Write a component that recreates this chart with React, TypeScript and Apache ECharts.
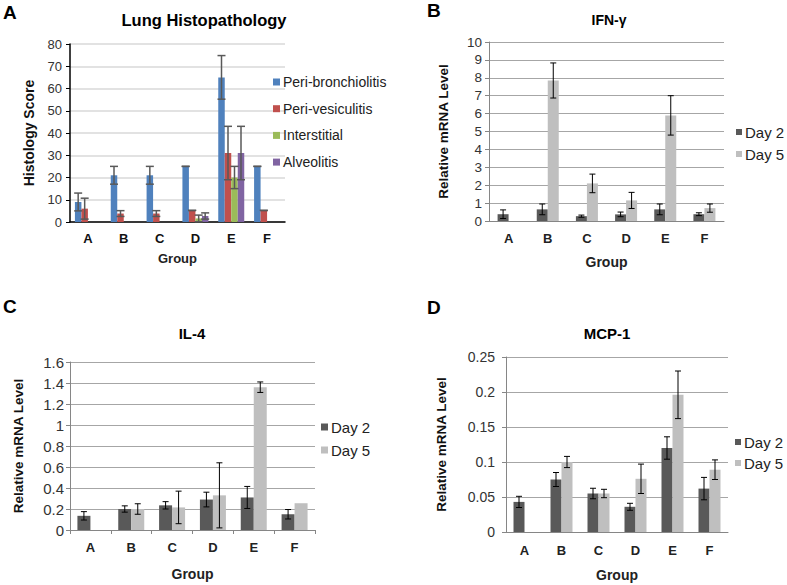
import React, { useEffect, useRef } from "react";
import * as echarts from "echarts";

const groups = ["A", "B", "C", "D", "E", "F"];

// Panel A – Lung histopathology
const histoNames = ["Peri-bronchiolitis", "Peri-vesiculitis", "Interstitial", "Alveolitis"];
const histoColors = ["#4F81BD", "#C0504D", "#9BBB59", "#8064A2"];
const periBronch = [9, 21, 21, 25, 65, 25];
const periBronchErr = [4, 4, 4, 0, 9.8, 0];
const periVes = [6, 3.8, 3.8, 5.2, 31, 5.2];
const periVesErr = [4.7, 1.3, 1.3, 0, 12, 0];
const interstitial = [0, 0, 0, 1.6, 20, 0];
const interstitialErr = [null, null, null, 1.5, 5, null];
const alveolitis = [0, 0, 0, 2.7, 31, 0];
const alveolitisErr = [null, null, null, 1.4, 12, null];

// Panels B–D
const dayNames = ["Day 2", "Day 5"];
const dayColors = ["#595959", "#BFBFBF"];

const ifnDay2 = [0.38, 0.65, 0.27, 0.37, 0.65, 0.38];
const ifnDay2Err = [0.24, 0.3, 0.06, 0.13, 0.3, 0.08];
const ifnDay5 = [0, 7.85, 2.1, 1.15, 5.9, 0.72];
const ifnDay5Err = [null, 0.98, 0.52, 0.45, 1.1, 0.23];

const il4Day2 = [0.135, 0.2, 0.235, 0.29, 0.31, 0.15];
const il4Day2Err = [0.04, 0.03, 0.035, 0.07, 0.105, 0.045];
const il4Day5 = [0, 0.2, 0.215, 0.33, 1.36, 0.255];
const il4Day5Err = [null, 0.05, 0.155, 0.31, 0.05, null];

const mcpDay2 = [0.043, 0.075, 0.055, 0.036, 0.12, 0.062];
const mcpDay2Err = [0.008, 0.01, 0.0075, 0.005, 0.016, 0.016];
const mcpDay5 = [0, 0.1, 0.055, 0.076, 0.196, 0.089];
const mcpDay5Err = [null, 0.008, 0.006, 0.021, 0.034, 0.014];

const FONT = '"Liberation Sans", Arial, sans-serif';

function errSeries(
  axisIdx: number,
  values: number[],
  errs: (number | null)[],
  pos: number,
  count: number,
  barW: number,
  color: string,
  lw: number,
  cap: number
) {
  const data: number[][] = [];
  values.forEach((v, i) => {
    const e = errs[i];
    if (e !== null && e !== undefined) data.push([i, v, e]);
  });
  const offset = (pos - (count - 1) / 2) * barW;
  return {
    type: "custom",
    name: "err" + axisIdx + "_" + pos,
    xAxisIndex: axisIdx,
    yAxisIndex: axisIdx,
    z: 10,
    silent: true,
    data,
    renderItem: (params: any, api: any) => {
      const i = api.value(0);
      const v = api.value(1);
      const e = api.value(2);
      const top = api.coord([i, v + e]);
      const bot = api.coord([i, v - e]);
      const x = top[0] + offset;
      const style = { stroke: color, lineWidth: lw };
      const children: any[] = [
        { type: "line", shape: { x1: x - cap / 2, y1: top[1], x2: x + cap / 2, y2: top[1] }, style },
        { type: "line", shape: { x1: x - cap / 2, y1: bot[1], x2: x + cap / 2, y2: bot[1] }, style },
      ];
      if (e > 0) {
        children.push({ type: "line", shape: { x1: x, y1: top[1], x2: x, y2: bot[1] }, style });
      }
      return { type: "group", children };
    },
  };
}

function barSeries(axisIdx: number, name: string, values: number[], color: string, barW: number) {
  return {
    type: "bar",
    name,
    xAxisIndex: axisIdx,
    yAxisIndex: axisIdx,
    data: values,
    barWidth: barW,
    barGap: "0%",
    itemStyle: { color },
  };
}

const grids = [
  { left: 70, top: 44, width: 215, height: 178 },
  { left: 489, top: 42, width: 235, height: 179 },
  { left: 70, top: 362, width: 245, height: 168 },
  { left: 506, top: 357, width: 222, height: 175 },
];

const yRanges = [
  { max: 80, interval: 10 },
  { max: 10, interval: 1 },
  { max: 1.6, interval: 0.2 },
  { max: 0.25, interval: 0.05 },
];

const yNames = ["Histology Score", "Relative mRNA Level", "Relative mRNA Level", "Relative mRNA Level"];
const yNameGaps = [34, 39, 45, 58];
const yLabelMargins = [8, 7, 6, 11];
const yLabelSizes = [13, 13.5, 15, 14];
const xNameGaps = [30, 34, 37, 36];
const xLabelMargins = [10, 11, 11, 12];

export default function App() {
  const ref = useRef<HTMLDivElement>(null);
  useEffect(() => {
    if (!ref.current) return;
    const chart = echarts.init(ref.current, null, { renderer: "svg" });

    const xAxis = grids.map((_, k) => ({
      type: "category",
      gridIndex: k,
      data: groups,
      name: "Group",
      nameLocation: "middle",
      nameGap: xNameGaps[k],
      nameTextStyle: { fontFamily: FONT, fontWeight: "bold", fontSize: k === 0 ? 13 : 14, color: "#222" },
      axisLine: { lineStyle: { color: k === 0 ? "#000" : "#868686", width: k === 0 ? 1.5 : 1 } },
      axisTick: { show: k === 2, alignWithLabel: false, length: 4, lineStyle: { color: "#868686" } },
      axisLabel: {
        fontFamily: FONT,
        fontWeight: "bold",
        fontSize: 13,
        color: k === 0 ? "#111" : "#222",
        margin: xLabelMargins[k],
      },
    }));

    const yAxis = grids.map((_, k) => ({
      type: "value",
      gridIndex: k,
      min: 0,
      max: yRanges[k].max,
      interval: yRanges[k].interval,
      name: yNames[k],
      nameLocation: "middle",
      nameRotate: 90,
      nameGap: yNameGaps[k],
      nameTextStyle: { fontFamily: FONT, fontWeight: "bold", fontSize: k === 0 ? 14 : 13.5, color: "#111" },
      axisLine: { show: true, lineStyle: { color: k === 0 ? "#000" : "#868686", width: k === 0 ? 1.5 : 1 } },
      axisTick: { show: true, length: 4, lineStyle: { color: k === 0 ? "#000" : "#868686" } },
      axisLabel: { fontFamily: FONT, fontSize: yLabelSizes[k], color: "#333", margin: yLabelMargins[k] },
      splitLine: {
        show: true,
        lineStyle: { color: k === 0 ? "#D9D9D9" : "#A6A6A6", width: k === 0 ? 1.5 : 1 },
      },
    }));

    const histoVals = [periBronch, periVes, interstitial, alveolitis];
    const histoErrs = [periBronchErr, periVesErr, interstitialErr, alveolitisErr];
    const series: any[] = [];
    histoVals.forEach((vals, i) => {
      series.push(barSeries(0, histoNames[i], vals, histoColors[i], 6.5));
    });
    histoVals.forEach((vals, i) => {
      series.push(errSeries(0, vals, histoErrs[i], i, 4, 6.5, "#595959", 1.5, 8));
    });

    const panels = [
      { idx: 1, d2: ifnDay2, e2: ifnDay2Err, d5: ifnDay5, e5: ifnDay5Err, w: 11 },
      { idx: 2, d2: il4Day2, e2: il4Day2Err, d5: il4Day5, e5: il4Day5Err, w: 13 },
      { idx: 3, d2: mcpDay2, e2: mcpDay2Err, d5: mcpDay5, e5: mcpDay5Err, w: 11 },
    ];
    panels.forEach((p) => {
      series.push(barSeries(p.idx, dayNames[0], p.d2, dayColors[0], p.w));
      series.push(barSeries(p.idx, dayNames[1], p.d5, dayColors[1], p.w));
      series.push(errSeries(p.idx, p.d2, p.e2, 0, 2, p.w, "#000", 1, 6));
      series.push(errSeries(p.idx, p.d5, p.e5, 1, 2, p.w, "#000", 1, 6));
    });

    const mkLegend = (data: string[], left: number, top: number, gap: number, size: number, icon: number) => ({
      data,
      orient: "vertical",
      left,
      top,
      padding: 0,
      itemGap: gap,
      itemWidth: icon,
      itemHeight: icon,
      icon: "rect",
      textStyle: { fontFamily: FONT, fontSize: size, color: "#222", padding: [0, 0, 0, -2] },
      selectedMode: false,
    });
    const legend = [
      mkLegend(histoNames, 273, 75, 12.7, 14, 7),
      mkLegend(dayNames, 736, 124.5, 7, 15, 6),
      mkLegend(dayNames, 321, 419.5, 8, 15, 7),
      mkLegend(dayNames, 735, 434.5, 6, 15, 6),
    ];

    const txt = (text: string, x: number, y: number, size: number, align = "center") => ({
      type: "text",
      x,
      y,
      style: {
        text,
        font: `bold ${size}px ${FONT}`,
        fill: "#000",
        align,
        verticalAlign: "middle",
      },
    });

    const graphic = [
      txt("A", 3, 12, 19, "left"),
      txt("B", 427, 10, 19, "left"),
      txt("C", 3, 306, 19, "left"),
      txt("D", 427, 307, 19, "left"),
      txt("Lung Histopathology", 204, 20, 16.5),
      txt("IFN-γ", 609, 20, 14),
      txt("IL-4", 192, 333, 15),
      txt("MCP-1", 607, 333, 15),
    ];

    chart.setOption({
      animation: false,
      backgroundColor: "#fff",
      grid: grids,
      xAxis,
      yAxis,
      legend,
      series,
      graphic,
    });
    return () => chart.dispose();
  }, []);

  return (
    <div
      ref={ref}
      style={{ position: "absolute", left: 0, top: 0, width: 787, height: 585, background: "#fff" }}
    />
  );
}
